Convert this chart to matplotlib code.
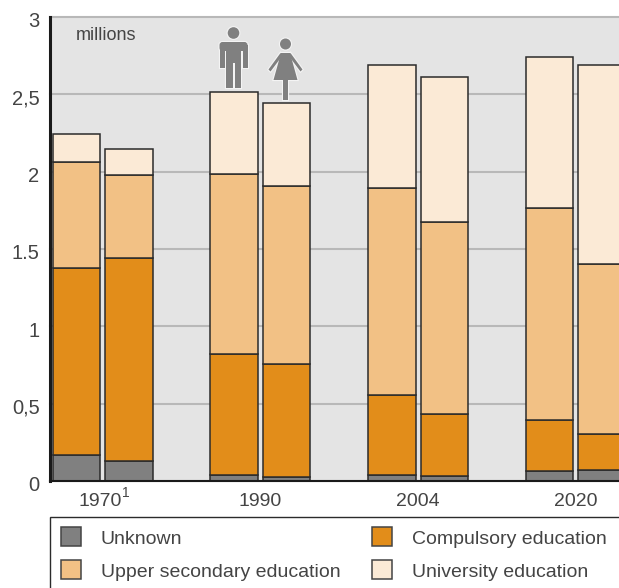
import matplotlib
matplotlib.use("Agg")
import matplotlib.pyplot as plt
from matplotlib.patches import Circle, Polygon, Rectangle, FancyBboxPatch
from matplotlib.transforms import Affine2D, ScaledTranslation
import numpy as np

W, H = 619, 588

years = ["1970", "1990", "2004", "2020"]
unknown_m = [0.17, 0.04, 0.04, 0.065]
compulsory_m = [1.207, 0.78, 0.515, 0.33]
upper_m = [0.683, 1.165, 1.339, 1.37]
university_m = [0.183, 0.53, 0.796, 0.975]

unknown_f = [0.13, 0.025, 0.035, 0.07]
compulsory_f = [1.31, 0.73, 0.395, 0.235]
upper_f = [0.54, 1.152, 1.245, 1.10]
university_f = [0.167, 0.537, 0.935, 1.285]

y_ticks = [0, 0.5, 1, 1.5, 2, 2.5, 3]
y_labels = ["0", "0,5", "1", "1.5", "2", "2,5", "3"]

series_labels = ["Unknown", "Compulsory education", "Upper secondary education", "University education"]
colors = ["#808080", "#e28d1a", "#f2c185", "#fbead6"]

plt.rcParams["font.family"] = ["Liberation Sans", "DejaVu Sans"]
text_color = "#444444"

fig = plt.figure(figsize=(W / 100, H / 100), dpi=100)
# pixel coordinates, origin top left
px = Affine2D().scale(1, -1).translate(0, H)

ax = fig.add_axes([50 / W, 1 - 481 / H, (W - 50) / W, (481 - 17) / H])
ax.set_facecolor("#e4e4e4")
ax.set_xlim(-0.3345, 3.2736)
ax.set_ylim(0, 3)
ax.yaxis.grid(True, color="#b8b8b8", linewidth=1.5, zorder=1)
ax.set_axisbelow(True)

bar_w = 0.302
x = np.arange(len(years))
for offset, parts in [
    (-0.166, [unknown_m, compulsory_m, upper_m, university_m]),
    (0.166, [unknown_f, compulsory_f, upper_f, university_f]),
]:
    bottom = np.zeros(len(years))
    for vals, c in zip(parts, colors):
        ax.bar(x + offset, vals, bar_w, bottom=bottom, color=c, edgecolor="#2b2b2b", linewidth=1.1, zorder=3)
        bottom = bottom + np.array(vals)

for side in ["top", "right"]:
    ax.spines[side].set_visible(False)
ax.spines["left"].set_color("#1a1a1a")
ax.spines["left"].set_linewidth(2.2)
ax.spines["bottom"].set_color("#1a1a1a")
ax.spines["bottom"].set_linewidth(1.5)
ax.spines["left"].set_zorder(5)
ax.spines["bottom"].set_zorder(5)

ax.set_yticks(y_ticks)
ax.set_yticklabels(y_labels, fontsize=14.5, color=text_color)
ax.set_xticks(x)
ax.set_xticklabels(years, fontsize=14, color=text_color)
ax.tick_params(axis="both", length=0)
ax.tick_params(axis="y", pad=7.5)
ax.tick_params(axis="x", pad=8.5)
for line in ax.get_ygridlines():
    line.set_clip_on(False)
shift = ScaledTranslation(0, -2 / 72, fig.dpi_scale_trans)
for lab in ax.get_yticklabels():
    lab.set_transform(lab.get_transform() + shift)
# only 1970 sits left of its group, to leave room for the footnote mark
nudge = ScaledTranslation(-2 / 72, 0, fig.dpi_scale_trans)
first = ax.get_xticklabels()[0]
first.set_transform(first.get_transform() + nudge)

fig.text(122 / W, 1 - 493 / H, "1", fontsize=10, color=text_color, ha="left", va="center")
fig.text(76 / W, 1 - 35 / H, "millions", fontsize=13, color=text_color, ha="left", va="center")

# legend box, runs off the right and bottom of the figure
fig.add_artist(Rectangle((50, 517), W, 80, transform=px, facecolor="white", edgecolor="#2b2b2b", linewidth=1.0))
legend_pos = [(61, 536.5), (372, 536.5), (61, 569.5), (372, 569.5)]
for (lx, ly), c, lab in zip(legend_pos, colors, series_labels):
    fig.add_artist(Rectangle((lx, ly - 9.5), 20, 19, transform=px, facecolor=c, edgecolor="#444444", linewidth=1.1))
    fig.text((lx + 40) / W, 1 - (ly + 3) / H, lab, fontsize=14, color=text_color, ha="left", va="center")

# pictograms
icon = "#808080"


def draw_icon(parts):
    # white halo first, grey fill on top
    for halo in [True, False]:
        for make in parts:
            p = make()
            if halo:
                p.set(transform=px, facecolor="#f4f4f4", edgecolor="#f4f4f4", linewidth=1.6)
            else:
                p.set(transform=px, facecolor=icon, edgecolor="none")
            fig.add_artist(p)


def man(cx, top):
    draw_icon([
        lambda: Circle((cx, top + 5.5), 5.8),
        lambda: FancyBboxPatch((cx - 14, top + 14.5), 28, 9, boxstyle="round,pad=0,rounding_size=3"),
        lambda: Rectangle((cx - 14, top + 17), 5, 23),
        lambda: Rectangle((cx + 9, top + 17), 5, 23),
        lambda: Rectangle((cx - 7.5, top + 17), 15, 18),
        lambda: Rectangle((cx - 7.5, top + 34), 6.5, 26.5),
        lambda: Rectangle((cx + 1, top + 34), 6.5, 26.5),
    ])


def woman(cx, top):
    draw_icon([
        lambda: Circle((cx, top + 5.5), 5.5),
        lambda: Polygon([(cx - 4.5, top + 14.5), (cx + 4.5, top + 14.5), (cx + 12, top + 41.5), (cx - 12, top + 41.5)]),
        lambda: Polygon([(cx - 5, top + 14.5), (cx - 3, top + 17), (cx - 15, top + 33), (cx - 17, top + 31)]),
        lambda: Polygon([(cx + 5, top + 14.5), (cx + 3, top + 17), (cx + 15, top + 33), (cx + 17, top + 31)]),
        lambda: Rectangle((cx - 2.5, top + 41), 5, 20),
    ])


man(233.5, 27.5)
woman(285.5, 38.5)

fig.savefig("out.png", dpi=100)
